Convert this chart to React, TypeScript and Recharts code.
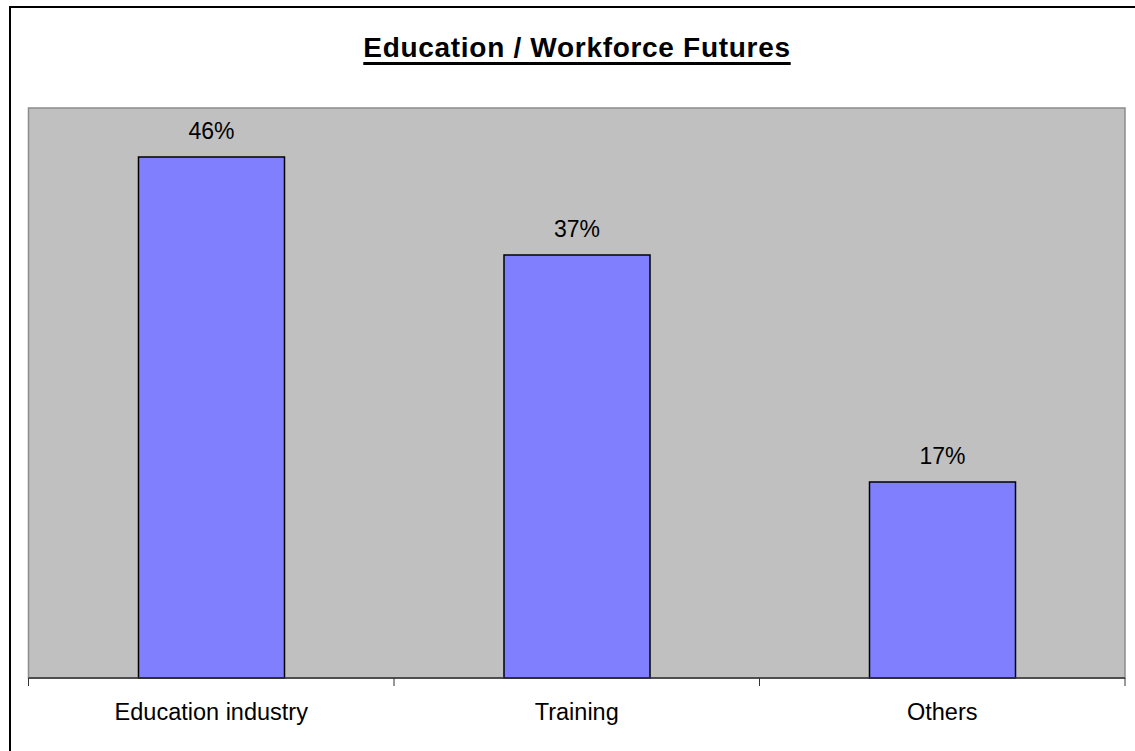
import React from 'react';
import { BarChart, Bar, XAxis, YAxis, CartesianGrid, LabelList, ReferenceArea } from 'recharts';

const categories = ['Education industry', 'Training', 'Others'];
const shares = [45.7, 37.1, 17.2];

const data = categories.map((name, i) => ({ name, share: shares[i] }));

const FONT = '"Liberation Sans", Arial, sans-serif';
const HALF_BAND = (1125 - 28.5) / categories.length / 2;

const CategoryTick = (props: any) => {
  const { x, y, payload, index, visibleTicksCount } = props;
  const half = payload && payload.offset ? payload.offset : HALF_BAND;
  const top = y - 17 - 8;
  return (
    <g>
      <line x1={x - half} x2={x - half} y1={top} y2={top + 8} stroke='#333' strokeWidth={1} />
      {index === visibleTicksCount - 1 && (
        <line x1={x + half} x2={x + half} y1={top} y2={top + 8} stroke='#333' strokeWidth={1} />
      )}
      <text x={x} y={y} dy='0.71em' textAnchor='middle' fill='#000' fontSize={23.5} fontFamily={FONT}>
        {payload.value}
      </text>
    </g>
  );
};

const App: React.FC = () => {
  return (
    <div
      style={{
        position: 'absolute',
        left: 0,
        top: 0,
        width: 1135,
        height: 751,
        overflow: 'hidden',
        background: '#fff',
        fontFamily: FONT,
      }}
    >
      <div
        style={{
          position: 'absolute',
          left: 9,
          top: 6,
          width: 1200,
          height: 800,
          border: '2px solid #000',
        }}
      />
      <div
        style={{
          position: 'absolute',
          left: 0,
          top: 33,
          width: 1154,
          textAlign: 'center',
          fontSize: 28,
          letterSpacing: 0.7,
          lineHeight: '30px',
          fontWeight: 'bold',
          textDecoration: 'underline',
          textDecorationThickness: 3,
          textUnderlineOffset: 5,
          color: '#000',
        }}
      >
        Education / Workforce Futures
      </div>
      <div style={{ position: 'absolute', left: 0, top: 0 }}>
        <BarChart
          width={1135}
          height={751}
          data={data}
          margin={{ top: 108, right: 10, bottom: 0, left: 28.5 }}
          barSize={146}
        >
          <CartesianGrid horizontal={false} vertical={false} fill='#C0C0C0' />
          <ReferenceArea y1={0} y2={50} fill='none' stroke='#8c8c8c' strokeWidth={1.5} />
          <XAxis
            dataKey='name'
            height={73}
            axisLine={{ stroke: '#333', strokeWidth: 1.5 }}
            tickLine={false}
            tickSize={8}
            tickMargin={17}
            tick={<CategoryTick />}
            interval={0}
          />
          <YAxis hide={true} width={0} type='number' domain={[0, 50]} />
          <Bar
            dataKey='share'
            fill='#8080FF'
            stroke='#000'
            strokeWidth={1.5}
            isAnimationActive={false}
          >
            <LabelList
              dataKey='share'
              position='top'
              offset={18}
              fill='#000'
              fontSize={23}
              fontFamily={FONT}
              formatter={(v: any) => `${Math.round(Number(v))}%`}
            />
          </Bar>
        </BarChart>
      </div>
    </div>
  );
};

export default App;
